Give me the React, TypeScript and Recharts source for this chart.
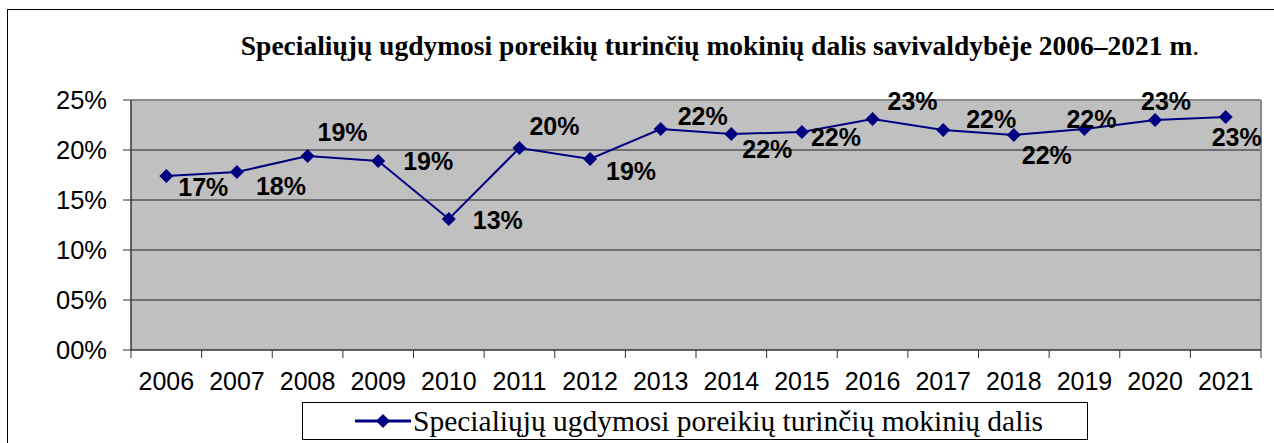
import React from "react";
import {
  CartesianGrid, LabelList, Line, LineChart, XAxis, YAxis,
} from "recharts";

const years = ["2006", "2007", "2008", "2009", "2010", "2011", "2012", "2013",
  "2014", "2015", "2016", "2017", "2018", "2019", "2020", "2021"];
const shares = [17.4, 17.8, 19.4, 18.9, 13.1, 20.2, 19.1, 22.1,
  21.6, 21.8, 23.1, 22.0, 21.5, 22.1, 23.0, 23.3];
const yTicks = [0, 5, 10, 15, 20, 25];
const seriesName = "Specialiųjų ugdymosi poreikių turinčių mokinių dalis";
const title = "Specialiųjų ugdymosi poreikių turinčių mokinių dalis savivaldybėje 2006–2021 m";

// label placement relative to each marker (dx, dy of text centre)
const labelShift: [number, number][] = [
  [37, 11], [44, 14], [35, -24], [50, 0], [49, 1], [35, -22], [41, 12], [42, -13],
  [36, 15], [34, 5], [40, -18], [48, -11], [33, 20], [7, -10], [11, -19], [11, 20],
];

const data = years.map((year, i) => ({ year, share: shares[i] }));

const W = 1274;
const H = 443;
const PLOT_LEFT = 131;
const PLOT_RIGHT = 1261;
const PLOT_TOP = 100;
const PLOT_BOTTOM = 350;
const band = (PLOT_RIGHT - PLOT_LEFT) / years.length;
const NAVY = "#000080";
const sans = "Arial, 'Liberation Sans', sans-serif";
const serif = "'Times New Roman', 'Liberation Serif', serif";

const Diamond = ({ cx, cy }: any) => {
  if (cx == null || cy == null) return null;
  const r = 7;
  return (
    <polygon
      points={`${cx},${cy - r} ${cx + r},${cy} ${cx},${cy + r} ${cx - r},${cy}`}
      fill={NAVY}
    />
  );
};

const XTick = ({ x, y, payload, index }: any) => {
  const left = x - band / 2;
  return (
    <g>
      <line x1={left} y1={PLOT_BOTTOM} x2={left} y2={PLOT_BOTTOM + 8} stroke="#333" />
      {index === years.length - 1 && (
        <line x1={left + band} y1={PLOT_BOTTOM} x2={left + band} y2={PLOT_BOTTOM + 8} stroke="#333" />
      )}
      <text x={x} y={y + 32} textAnchor="middle" fontFamily={sans} fontSize={25} fill="#000">
        {payload.value}
      </text>
    </g>
  );
};

const PointLabel = ({ x, y, value, index }: any) => {
  const [dx, dy] = labelShift[index] ?? [30, 0];
  return (
    <text
      x={x + dx}
      y={y + dy}
      textAnchor="middle"
      dominantBaseline="central"
      fontFamily={sans}
      fontSize={25}
      fontWeight="bold"
      fill="#000"
    >
      {`${Math.round(value)}%`}
    </text>
  );
};

export default function App() {
  return (
    <div style={{ position: "absolute", left: 0, top: 0, width: W, height: H, background: "#fff", overflow: "hidden" }}>
      <div
        style={{
          position: "absolute", left: 7, top: 9, width: W, height: H,
          borderLeft: "1px solid #000", borderTop: "1px solid #000",
        }}
      />
      <div
        style={{
          position: "absolute", left: 0, width: 1440, top: 30, textAlign: "center",
          fontFamily: serif, fontSize: 27.5, whiteSpace: "nowrap", color: "#000",
        }}
      >
        <b>{title}</b>.
      </div>
      <div style={{ position: "absolute", left: 0, top: 0 }}>
        <LineChart
          width={W}
          height={H}
          data={data}
          margin={{ top: PLOT_TOP, right: W - PLOT_RIGHT, left: 0, bottom: 0 }}
        >
          <CartesianGrid
            vertical={false}
            fill="#C0C0C0"
            fillOpacity={1}
            stroke="#555"
            strokeWidth={1.5}
            horizontalCoordinatesGenerator={({ offset }: any) =>
              [1, 2, 3, 4].map((k) => offset.top + (offset.height * k) / 5)}
          />
          <CartesianGrid
            stroke="#8a8a8a"
            strokeWidth={2}
            horizontalCoordinatesGenerator={({ offset }: any) => [offset.top]}
            verticalCoordinatesGenerator={({ offset }: any) => [offset.left + offset.width]}
          />
          <XAxis
            dataKey="year"
            height={H - PLOT_BOTTOM}
            padding={{ left: band / 2, right: band / 2 }}
            tickLine={false}
            axisLine={{ stroke: "#333", strokeWidth: 1.5 }}
            tick={<XTick />}
            interval={0}
          />
          <YAxis
            width={PLOT_LEFT}
            domain={[0, 25]}
            ticks={yTicks}
            tickSize={8}
            tickMargin={16}
            tickLine={{ stroke: "#333" }}
            axisLine={{ stroke: "#333", strokeWidth: 1.5 }}
            tick={{ fontFamily: sans, fontSize: 25.5, fill: "#000" }}
            tickFormatter={(v: number) => `${String(v).padStart(2, "0")}%`}
          />
          <Line
            type="linear"
            dataKey="share"
            name={seriesName}
            stroke={NAVY}
            strokeWidth={2}
            dot={<Diamond />}
            activeDot={false}
            isAnimationActive={false}
          >
            <LabelList dataKey="share" content={<PointLabel />} />
          </Line>
        </LineChart>
      </div>
      <div
        style={{
          position: "absolute", left: 302, top: 402, width: 786, height: 38,
          border: "1px solid #000", boxSizing: "border-box", display: "flex",
          alignItems: "center", background: "#fff",
        }}
      >
        <svg width={110} height={30} style={{ flex: "none" }}>
          <line x1={52} y1={15} x2={108} y2={15} stroke={NAVY} strokeWidth={3} />
          <polygon points="80,8 87,15 80,22 73,15" fill={NAVY} />
        </svg>
        <span style={{ fontFamily: serif, fontSize: 29.5, whiteSpace: "nowrap", color: "#000" }}>
          {seriesName}
        </span>
      </div>
    </div>
  );
}
